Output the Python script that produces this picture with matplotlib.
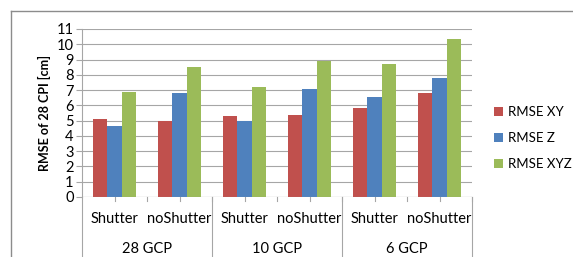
import numpy as np
import matplotlib.pyplot as plt
from matplotlib.lines import Line2D

plt.rcParams['font.family'] = ['Lato', 'DejaVu Sans']

# data
groups = ['28 GCP', '10 GCP', '6 GCP']
modes = ['Shutter', 'noShutter']
rmse_xy = [5.1, 5.0, 5.33, 5.36, 5.82, 6.78]
rmse_z = [4.66, 6.83, 5.0, 7.07, 6.53, 7.8]
rmse_xyz = [6.88, 8.52, 7.23, 8.92, 8.73, 10.35]
series_names = ['RMSE XY', 'RMSE Z', 'RMSE XYZ']
colors = ['#C0504D', '#4F81BD', '#9BBB59']

fig = plt.figure(figsize=(5.73, 2.57), dpi=100)
ax = fig.add_axes([82 / 573, 1 - 197 / 257, 390 / 573, 168 / 257])

n = len(rmse_xy)
x = np.arange(n)
w = 0.22
for i, (vals, c, name) in enumerate(zip([rmse_xy, rmse_z, rmse_xyz], colors, series_names)):
    ax.bar(x + (i - 1) * w, vals, w, color=c, label=name, zorder=3)

ax.set_xlim(-0.5, n - 0.5)
ax.set_ylim(0, 11)
ax.set_yticks(range(12))
ax.yaxis.grid(True, color='#a6a6a6', lw=0.8, zorder=0)
for s in ['top', 'right', 'bottom']:
    ax.spines[s].set_visible(False)
ax.spines['left'].set_color('#a6a6a6')
ax.tick_params(axis='y', length=4, color='#a6a6a6', labelsize=10.5, pad=2)
ax.set_ylabel('RMSE of 28 CPI [cm]', fontsize=9, fontweight='bold', labelpad=4)

# multi-level category axis
ax.set_xticks([])
ax.axhline(0, color='#a6a6a6', lw=0.8, zorder=4)
trans = ax.get_xaxis_transform()
for k in np.arange(0, n, 0.5):
    ax.add_line(Line2D([k, k], [0, -0.025], transform=trans, color='#a6a6a6',
                       lw=0.8, clip_on=False))
for b in [-0.5, 1.5, 3.5, 5.5]:
    ax.add_line(Line2D([b, b], [0, -0.37], transform=trans, color='#a6a6a6',
                       lw=0.8, clip_on=False))
for i in range(n):
    ax.text(i, -0.13, modes[i % 2], transform=trans, ha='center', va='center',
            fontsize=10.5)
for g, name in enumerate(groups):
    ax.text(2 * g + 0.5, -0.31, name, transform=trans, ha='center', va='center',
            fontsize=10.5)

leg = fig.legend(loc='center left', bbox_to_anchor=(482 / 573, 1 - 138 / 257),
                 frameon=False, fontsize=9.5, handlelength=0.7, handleheight=0.7,
                 handletextpad=0.4, labelspacing=1.05)

# outer chart frame
fig.add_artist(Line2D([11 / 573, 11 / 573], [0, 1 - 11 / 257], color='#8c8c8c', lw=1))
fig.add_artist(Line2D([11 / 573, 1], [1 - 11 / 257, 1 - 11 / 257], color='#8c8c8c', lw=1))

fig.savefig('out.png', dpi=100)
